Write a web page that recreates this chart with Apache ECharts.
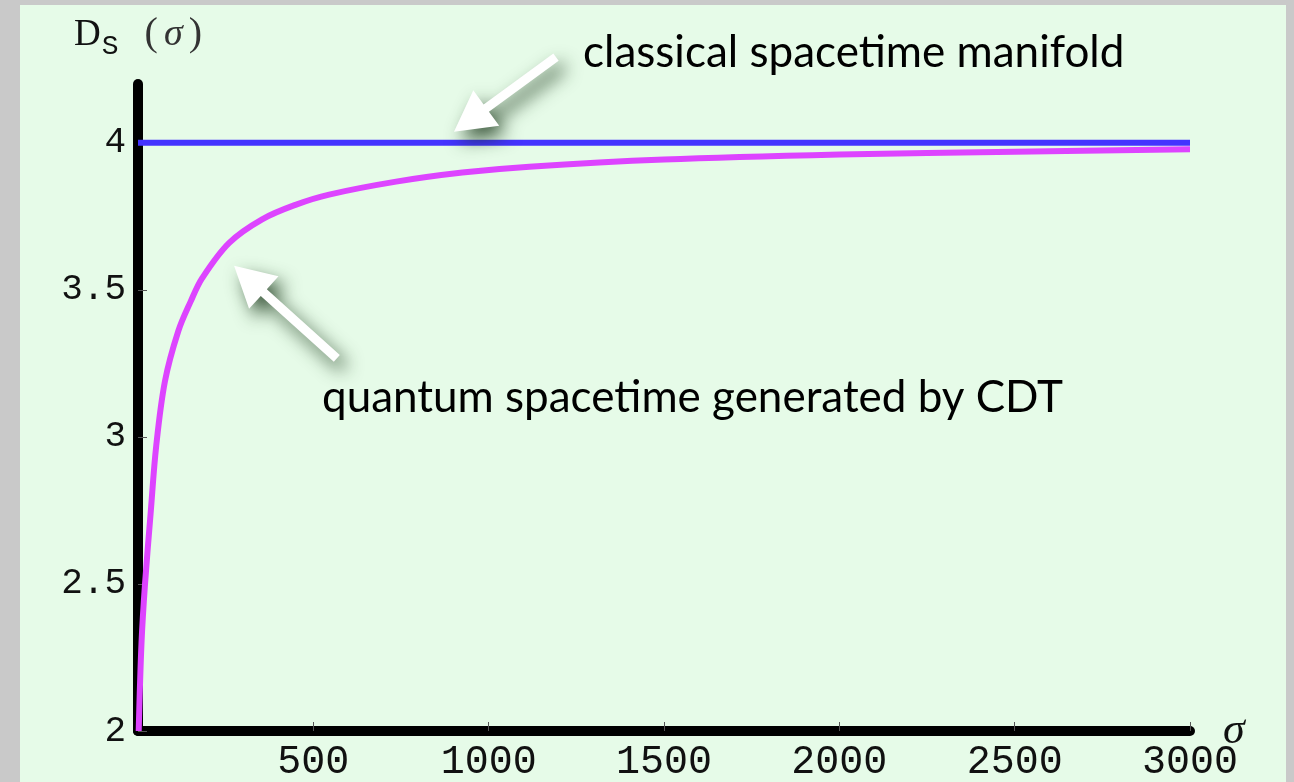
<!DOCTYPE html>
<html>
<head>
<meta charset="utf-8">
<title>Spectral dimension</title>
<script src="https://cdn.jsdelivr.net/npm/echarts@6/dist/echarts.min.js"></script>
<style>
  html, body { margin: 0; padding: 0; background: #c9c9c9; }
  #main { position: absolute; left: 20px; top: 5px; width: 1266px; height: 777px; }
</style>
</head>
<body>
<div id="main"></div>
<script>
// diffusion time sigma and spectral dimension
const sigma = [2, 10, 20, 36, 52, 77, 115, 150, 183, 260, 354, 451, 545, 736, 925, 1116, 1500, 2000, 2500, 3000]
const dsQuantum = [2.0, 2.3, 2.5, 2.74, 2.97, 3.19, 3.36, 3.46, 3.54, 3.66, 3.74, 3.79, 3.824, 3.868, 3.899, 3.919, 3.943, 3.96, 3.97, 3.978]
const sigmaClassical = [0, 3000]
const dsClassical = [4, 4]

const xTicks = [500, 1000, 1500, 2000, 2500, 3000]
const yTicks = [2, 2.5, 3, 3.5, 4]

// annotation arrows in data coords: [tail, tip]
const arrowClassical = [[1192, 4.291], [901, 4.038]]
const arrowQuantum = [[567, 3.267], [274, 3.582]]

const main = document.getElementById('main')
const myChart = echarts.init(main)

const tickFont = 'Liberation Mono'

const option = {
  backgroundColor: '#e6fbe8',
  animation: false,
  grid: { left: 118, right: 96, top: 79, bottom: 47 },
  xAxis: {
    type: 'value',
    min: 0,
    max: 3000,
    name: 'σ',
    nameLocation: 'end',
    nameGap: 33,
    nameMoveOverlap: false,
    nameTextStyle: { fontFamily: 'Liberation Serif', fontStyle: 'italic', fontSize: 44, color: '#111', padding: [40, 0, 0, 0] },
    splitLine: { show: false },
    axisLine: { onZero: false, lineStyle: { color: '#000', width: 10, cap: 'round' } },
    axisTick: { customValues: xTicks, inside: true, length: 9, lineStyle: { color: '#555', width: 1 } },
    axisLabel: {
      customValues: xTicks, margin: 11, fontFamily: tickFont, fontSize: 40, color: '#111',
      formatter: v => String(v)
    }
  },
  yAxis: {
    type: 'value',
    min: 2,
    max: 4.2,
    name: '{d|D}{s|S}{p|(}{sig|σ}{p|)}',
    nameLocation: 'end',
    nameGap: 30,
    nameMoveOverlap: false,
    nameTextStyle: {
      rich: {
        d: { fontFamily: 'Liberation Serif', fontSize: 37, color: '#111', verticalAlign: 'bottom' },
        s: { fontFamily: tickFont, fontSize: 28, color: '#111', verticalAlign: 'bottom', padding: [0, 26, -7, 1] },
        p: { fontFamily: 'Liberation Serif', fontSize: 40, color: '#333', verticalAlign: 'bottom' },
        sig: { fontFamily: 'Liberation Serif', fontStyle: 'italic', fontSize: 38, color: '#333', verticalAlign: 'bottom', padding: [0, 6, 0, 6] }
      }
    },
    splitLine: { show: false },
    axisLine: { lineStyle: { color: '#000', width: 10, cap: 'round' } },
    axisTick: { customValues: yTicks, inside: true, length: 9, lineStyle: { color: '#555', width: 1 } },
    axisLabel: { customValues: yTicks, margin: 12, fontFamily: tickFont, fontSize: 36, color: '#111' }
  },
  series: [
    {
      name: 'classical',
      type: 'line',
      data: sigmaClassical.map((s, i) => [s, dsClassical[i]]),
      showSymbol: false,
      lineStyle: { color: '#4433ff', width: 6 }
    },
    {
      name: 'quantum',
      type: 'line',
      data: sigma.map((s, i) => [s, dsQuantum[i]]),
      showSymbol: false,
      smooth: 0.35,
      lineStyle: { color: '#dd44ff', width: 6 }
    }
  ]
}
myChart.setOption(option)

// white arrow with a soft shadow, positioned through the grid's scales
function arrowShape(tailData, tipData) {
  const a = myChart.convertToPixel({ gridIndex: 0 }, tailData)
  const b = myChart.convertToPixel({ gridIndex: 0 }, tipData)
  const dx = b[0] - a[0], dy = b[1] - a[1]
  const len = Math.sqrt(dx * dx + dy * dy)
  const ux = dx / len, uy = dy / len
  const nx = -uy, ny = ux
  const headLen = 40, headHalf = 22, shaftHalf = 4.5
  const bx = b[0] - ux * headLen, by = b[1] - uy * headLen
  const pts = [
    [a[0] + nx * shaftHalf, a[1] + ny * shaftHalf],
    [bx + nx * shaftHalf, by + ny * shaftHalf],
    [bx + nx * headHalf, by + ny * headHalf],
    [b[0], b[1]],
    [bx - nx * headHalf, by - ny * headHalf],
    [bx - nx * shaftHalf, by - ny * shaftHalf],
    [a[0] - nx * shaftHalf, a[1] - ny * shaftHalf]
  ]
  return {
    type: 'polygon',
    z: 100,
    shape: { points: pts },
    style: {
      fill: '#ffffff',
      shadowBlur: 18,
      shadowColor: 'rgba(20, 50, 20, 0.8)',
      shadowOffsetX: 7,
      shadowOffsetY: 9
    }
  }
}

const labelFont = '44px Lato'
myChart.setOption({
  graphic: [
    arrowShape(arrowClassical[0], arrowClassical[1]),
    arrowShape(arrowQuantum[0], arrowQuantum[1]),
    {
      type: 'text', left: 563, top: 26, z: 100,
      style: { text: 'classical spacetime manifold', font: labelFont, fill: '#000' }
    },
    {
      type: 'text', left: 302, top: 371, z: 100,
      style: { text: 'quantum spacetime generated by CDT', font: labelFont, fill: '#000' }
    }
  ]
})
</script>
</body>
</html>
